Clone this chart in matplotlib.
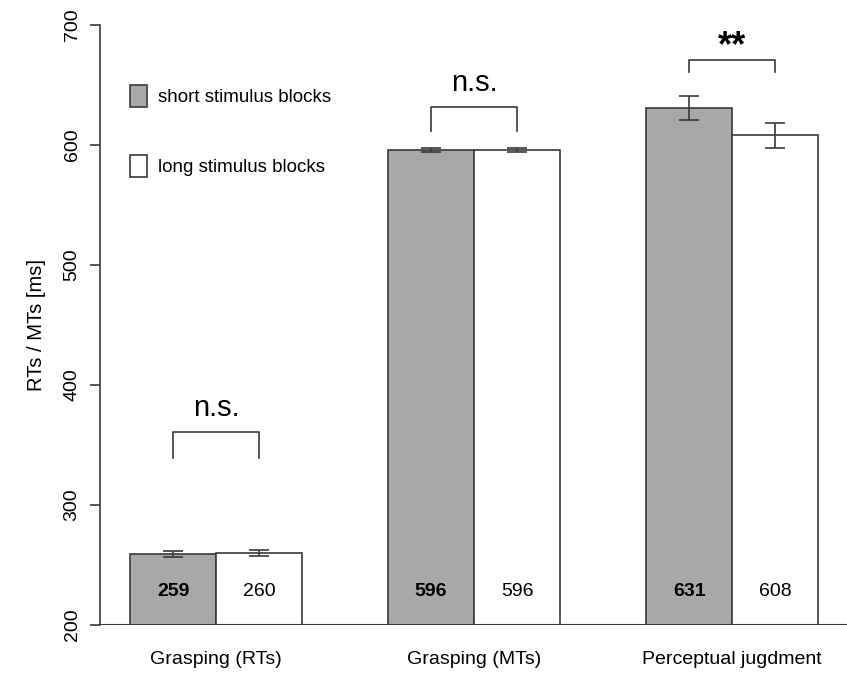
import matplotlib
matplotlib.use("Agg")
import matplotlib.pyplot as plt
import numpy as np

plt.rcParams['font.family'] = ['Liberation Sans', 'DejaVu Sans']

# data
groups = ['Grasping (RTs)', 'Grasping (MTs)', 'Perceptual jugdment']
short_vals = [259, 596, 631]
long_vals = [260, 596, 608]
short_err = [2.5, 1.5, 10]
long_err = [2.5, 1.5, 10.5]
sig_labels = ['n.s.', 'n.s.', '**']
bracket_top = [361, 632, 671]
bracket_drop = [22, 20, 10]

grey = '#a8a8a8'
edge = '#3a3a3a'

fig = plt.figure(figsize=(8.47, 6.76), dpi=100)
ax = fig.add_axes([100 / 847, 51 / 676, 747 / 847, 600 / 676])

# bar layout in bar-width units (R barplot style)
x_short = np.array([0.35 + 3 * i for i in range(3)]) + 0.5
x_long = x_short + 1
centers = x_short + 0.5

ax.bar(x_short, short_vals, width=1, bottom=0, color=grey, edgecolor=edge, linewidth=1.2,
       label='short stimulus blocks')
ax.bar(x_long, long_vals, width=1, bottom=0, color='white', edgecolor=edge, linewidth=1.2,
       label='long stimulus blocks')

ax.errorbar(x_short, short_vals, yerr=short_err, fmt='none', ecolor=edge, elinewidth=1.2, capsize=7, capthick=1.2)
ax.errorbar(x_long, long_vals, yerr=long_err, fmt='none', ecolor=edge, elinewidth=1.2, capsize=7, capthick=1.2)

# values inside the bars
for xs, xl, vs, vl in zip(x_short, x_long, short_vals, long_vals):
    ax.text(xs, 227.5, str(vs), ha='center', va='center', fontsize=14, fontweight='bold')
    ax.text(xl, 227.5, str(vl), ha='center', va='center', fontsize=14)

# significance brackets
for xs, xl, top, drop, lab in zip(x_short, x_long, bracket_top, bracket_drop, sig_labels):
    ax.plot([xs, xs, xl, xl], [top - drop, top, top, top - drop], color=edge, lw=1.2)
    if lab == '**':
        ax.text((xs + xl) / 2, top - 4, lab, ha='center', va='bottom', fontsize=26, fontweight='bold')
    else:
        ax.text((xs + xl) / 2, top + 8, lab, ha='center', va='bottom', fontsize=21)

ax.axhline(200, color=edge, lw=1.5)

ax.set_xlim(0, 747 / 86)
ax.set_ylim(200, 700)
ax.set_yticks([200, 300, 400, 500, 600, 700])
ax.set_yticklabels(['200', '300', '400', '500', '600', '700'], rotation=90, va='center', fontsize=14)
ax.set_xticks(centers)
ax.set_xticklabels(groups, fontsize=14)
ax.tick_params(axis='x', length=0, pad=19)
ax.tick_params(axis='y', length=7, width=1.2, color=edge, pad=7)
ax.set_ylabel('RTs / MTs [ms]', fontsize=14.5, labelpad=13)

for s in ['top', 'right', 'bottom']:
    ax.spines[s].set_visible(False)
ax.spines['left'].set_bounds(200, 700)
ax.spines['left'].set_color(edge)
ax.spines['left'].set_linewidth(1.2)

ax.legend(loc='upper left', bbox_to_anchor=(0.04, 0.9), frameon=False, fontsize=13.5,
          handlelength=0.9, handleheight=1.4, labelspacing=2.6, handletextpad=0.6,
          borderpad=0, borderaxespad=0)

fig.savefig('out.png', dpi=100)
